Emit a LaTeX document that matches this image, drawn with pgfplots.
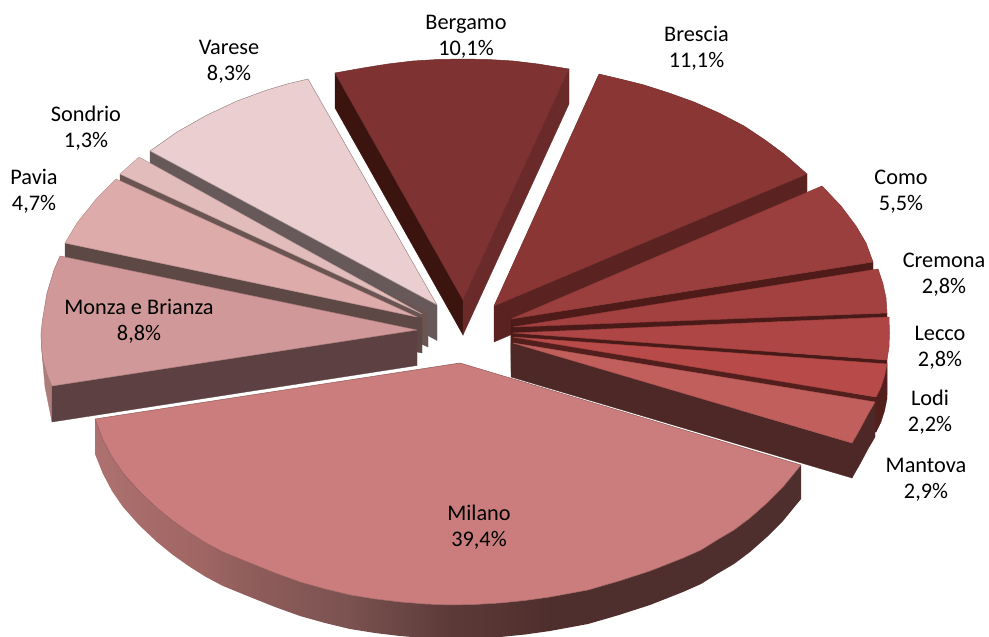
\documentclass[border=0pt]{standalone}
\usepackage{pgfplots}
\pgfplotsset{compat=1.18}
\usepackage{fontspec}
\setmainfont{Carlito}
\definecolor{wallA}{HTML}{AD716F}
\definecolor{wallB}{HTML}{A06664}
\definecolor{wallC}{HTML}{8F5D5B}
\definecolor{wallD}{HTML}{7A5250}
\definecolor{wallE}{HTML}{5C3A38}
\definecolor{wallF}{HTML}{4F2F2D}
% side wall of the largest slice, darkening from left to right
\pgfdeclarehorizontalshading{milanowall}{100bp}{
  color(0bp)=(wallA); color(25bp)=(wallA); color(32.4bp)=(wallB); color(36bp)=(wallC);
  color(43.1bp)=(wallD); color(50.1bp)=(wallE); color(57.2bp)=(wallF); color(75bp)=(wallF); color(100bp)=(wallF)}
\definecolor{bergT}{HTML}{7E3231}\definecolor{bergL}{HTML}{3B1410}\definecolor{bergR}{HTML}{6A2A2A}
\definecolor{bresT}{HTML}{8A3635}\definecolor{bresW}{HTML}{5A2321}
\definecolor{comoT}{HTML}{9A3F3D}\definecolor{comoW}{HTML}{4E1B19}
\definecolor{cremT}{HTML}{A34140}\definecolor{cremW}{HTML}{4A1A18}
\definecolor{lecT}{HTML}{AD4644}\definecolor{lecW}{HTML}{4A1A18}
\definecolor{lodT}{HTML}{B84B49}\definecolor{lodW}{HTML}{521F1D}
\definecolor{manT}{HTML}{C15F5D}\definecolor{manW}{HTML}{4E2826}
\definecolor{milT}{HTML}{CA7D7C}
\definecolor{monT}{HTML}{D09898}\definecolor{monW}{HTML}{5D4042}\definecolor{monO}{HTML}{AB7E7C}
\definecolor{pavT}{HTML}{DCABAA}\definecolor{pavW}{HTML}{5E4846}
\definecolor{sonT}{HTML}{E2BCBB}\definecolor{sonW}{HTML}{6B5553}
\definecolor{varT}{HTML}{EBCFD0}\definecolor{varW}{HTML}{67595A}
\pgfplotsset{
  wall/.style={no markers,forget plot,fill=#1,draw=#1,line width=0.3pt},
  top/.style 2 args={no markers,forget plot,fill=#1,draw=#2,line width=0.5pt,line join=round}
}
\tikzset{lab/.style={align=center,font=\fontsize{22.3}{26}\selectfont,text=black}}
\begin{document}
\begin{tikzpicture}
\begin{axis}[
  at={(0,0)},anchor=south west,
  width=989pt,height=637pt,scale only axis,
  xmin=0,xmax=989,ymin=0,ymax=637,y dir=reverse,
  hide axis,clip=true]

% Bergamo
\addplot[wall=bergL] coordinates {(335,73)(463,300)(463,335)(335,108)} --cycle;
\addplot[wall=bergR] coordinates {(569,69)(463,300)(463,335)(569,104)} --cycle;
\addplot[top={bergT}{bergT!85!black}] coordinates {(335,73)(363,68)(388,64)(413,61)(438,59.5)(463,59)(488,59.5)(513,61)(538,64)(569,69)(463,300)} --cycle;

% Brescia
\addplot[wall=bresW] coordinates {(494,306)(807,174)(807,209)(494,342)} --cycle;
\addplot[top={bresT}{bresT!85!black}] coordinates {(494,306)(599,74)(620,79)(644,85)(669,93)(694,102)(719,113)(744,126)(765,140)(784,154)(807,174)} --cycle;

% Como
\addplot[wall=comoW] coordinates {(511,319)(873,262)(873,297)(511,354)} --cycle;
\addplot[top={comoT}{comoT!90!black}] coordinates {(511,319)(822,186)(841,206)(856,226)(866,243)(873,262)} --cycle;

% Cremona
\addplot[wall=cremW] coordinates {(511,326)(887,313)(887,348)(511,361)} --cycle;
\addplot[top={cremT}{cremT!90!black}] coordinates {(513,327)(878,269)(883,284)(886,298)(887,313)} --cycle;

% Lecco
\addplot[wall=lecW] coordinates {(511,333)(887,360)(887,395)(511,368)} --cycle;
\addplot[top={lecT}{lecT!90!black}] coordinates {(513,333)(889,317)(889.5,333)(889,347)(887,360)} --cycle;

% Lodi, with its rim
\addplot[wall=lodW] coordinates {(887,364)(884.5,376)(881,387)(876,397)(876,432)(881,422)(884.5,411)(887,399)} --cycle;
\addplot[wall=lodW] coordinates {(511,337)(876,397)(876,432)(511,372)} --cycle;
\addplot[top={lodT}{lodT!90!black}] coordinates {(513,337)(887,364)(884.5,376)(881,387)(876,397)} --cycle;

% Mantova, with its rim
\addplot[wall=manW] coordinates {(875,402)(868,414)(860,429)(852,443)(852,478)(860,464)(868,449)(875,437)} --cycle;
\addplot[wall=manW] coordinates {(511,343)(852,443)(852,478)(511,377)} --cycle;
\addplot[top={manT}{manT!90!black}] coordinates {(513,343)(875,402)(868,414)(860,429)(852,443)} --cycle;

% Varese
\addplot[wall=varW] coordinates {(437,305)(150,151)(150,186)(437,340.5)} --cycle;
\addplot[top={varT}{varT!65!black}] coordinates {(437,305)(150,151)(177,132)(207,115)(237,101)(267,90)(287,84)(308,79)} --cycle;

% Sondrio
\addplot[wall=sonW] coordinates {(428,312)(120,174)(120,209)(428,347)} --cycle;
\addplot[top={sonT}{sonT!85!black}] coordinates {(422,314)(139,157)(130,165)(120,174)} --cycle;

% Pavia
\addplot[wall=pavW] coordinates {(422,318)(65,243)(65,278)(422,353)} --cycle;
\addplot[top={pavT}{pavT!85!black}] coordinates {(417,317)(116,179)(97,198)(77,223)(65,243)} --cycle;

% Monza e Brianza, with its rim
\addplot[wall=monO] coordinates {(41,333)(41.5,347)(43,360)(47,374)(52,386)(52,422)(45,387)(41.7,350)} --cycle;
\addplot[wall=monW] coordinates {(417,330)(52,386)(52,422)(417,365.5)} --cycle;
\addplot[top={monT}{monT!80!black}] coordinates {(417,330)(60,256)(54,270)(47,293)(42.5,320)(41,333)(41.5,347)(43,360)(47,374)(52,386)} --cycle;

% Milano
\addplot[no markers,forget plot,shade,shading=milanowall,draw=none] coordinates {(95,419)(103,440)(112,457)(123,473)(139,491)(157,508)(173,521)(190,533)(206,543)(223,552)(250,563)(275,573)(300,582)(325,589)(350,595)(375,599)(400,602)(425,604)(450,605)(475,604.5)(500,603)(525,600.5)(550,597)(588,590)(619,581)(650,571)(683,558)(701,550)(717,540)(734,530)(750,518)(767,503)(783,487)(801,465)(801,499)(783,521)(767,537)(750,552)(734,564)(717,574)(701,584)(683,592)(650,605)(619,615)(588,624)(550,631)(525,634.5)(500,637)(475,638.5)(450,639)(425,638)(400,636)(375,633)(350,629)(325,623)(300,616)(275,607)(250,597)(223,586)(206,577)(190,567)(173,555)(157,542)(139,525)(123,507)(112,491)(103,474)(95,454)} --cycle;
\addplot[top={milT}{milT!72!black}] coordinates {(460,363)(95,419)(103,440)(112,457)(123,473)(139,491)(157,508)(173,521)(190,533)(206,543)(223,552)(250,563)(275,573)(300,582)(325,589)(350,595)(375,599)(400,602)(425,604)(450,605)(475,604.5)(500,603)(525,600.5)(550,597)(588,590)(619,581)(650,571)(683,558)(701,550)(717,540)(734,530)(750,518)(767,503)(783,487)(801,465)} --cycle;

% Data labels
\node[lab] at (axis cs:466,36.5) {Bergamo\\10,1\%};
\node[lab] at (axis cs:696.5,48.5) {Brescia\\11,1\%};
\node[lab] at (axis cs:901,191.5) {Como\\5,5\%};
\node[lab] at (axis cs:944,274.5) {Cremona\\2,8\%};
\node[lab] at (axis cs:940,347.5) {Lecco\\2,8\%};
\node[lab] at (axis cs:930,412.5) {Lodi\\2,2\%};
\node[lab] at (axis cs:926,479.5) {Mantova\\2,9\%};
\node[lab] at (axis cs:479,527.5) {Milano\\39,4\%};
\node[lab] at (axis cs:139,321.5) {Monza e Brianza\\8,8\%};
\node[lab] at (axis cs:34,191.5) {Pavia\\4,7\%};
\node[lab] at (axis cs:86,128.5) {Sondrio\\1,3\%};
\node[lab] at (axis cs:229,61.5) {Varese\\8,3\%};
\end{axis}
\path (0,0) rectangle (989pt,637pt);
\end{tikzpicture}
\end{document}
